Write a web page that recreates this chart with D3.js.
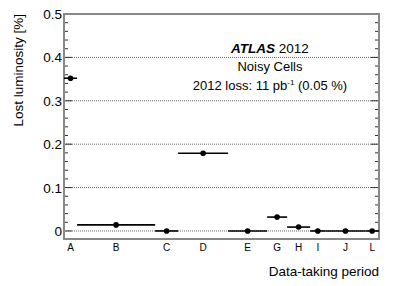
<!DOCTYPE html>
<html>
<head>
<meta charset="utf-8">
<script src="https://cdn.jsdelivr.net/npm/d3@7"></script>
<style>
  body { margin: 0; background: #fff; }
  svg { display: block; font-family: "Liberation Sans", Arial, Helvetica, sans-serif; }
</style>
</head>
<body>
<div id="chart"></div>
<script>
// data-taking periods, integrated luminosity per period (fb^-1, sets bin widths)
var periods  = ['A', 'B', 'C', 'D', 'E', 'G', 'H', 'I', 'J', 'L']
var lumi     = [0.87, 5.2, 1.53, 3.33, 2.6, 1.33, 1.53, 1.03, 2.65, 0.91]
var lostLumi = [0.352, 0.014, 0, 0.179, 0, 0.032, 0.009, 0, 0, 0]   // %
var yTicks   = [0, 0.1, 0.2, 0.3, 0.4, 0.5]
var yTickLabels = ['0', '0.1', '0.2', '0.3', '0.4', '0.5']

var W = 399, H = 286
var frame = { left: 64, right: 379, top: 14, bottom: 239 }

var svg = d3.select('#chart').append('svg')
  .attr('width', W).attr('height', H)

// cumulative edges of each period
var edges = [0]
lumi.forEach(function(l, i) { edges.push(edges[i] + l) })
var rows = periods.map(function(p, i) {
  return { name: p, lo: edges[i], hi: edges[i + 1], mid: (edges[i] + edges[i + 1]) / 2, val: lostLumi[i] }
})

var x = d3.scaleLinear().domain([0, edges[edges.length - 1]]).range([frame.left, frame.right])
var y = d3.scaleLinear().domain([-0.0185, 0.5]).range([frame.bottom, frame.top])

// grid
svg.append('g').selectAll('line')
  .data(yTicks.slice(0, -1))
  .enter().append('line')
  .attr('x1', frame.left).attr('x2', frame.right)
  .attr('y1', d => y(d)).attr('y2', d => y(d))
  .attr('stroke', '#666').attr('stroke-width', 1)
  .attr('stroke-dasharray', '1,1')

// minor + major ticks, both sides, pointing inward
var minor = d3.range(0, 0.5001, 0.02)
var tickG = svg.append('g').attr('stroke', '#333').attr('stroke-width', 1)
minor.forEach(function(v) {
  var major = Math.abs(v * 10 - Math.round(v * 10)) < 1e-6
  var len = major ? 8 : 4
  tickG.append('line')
    .attr('x1', frame.left).attr('x2', frame.left + len)
    .attr('y1', y(v)).attr('y2', y(v))
  tickG.append('line')
    .attr('x1', frame.right).attr('x2', frame.right - len)
    .attr('y1', y(v)).attr('y2', y(v))
})

// frame
svg.append('rect')
  .attr('x', frame.left).attr('y', frame.top)
  .attr('width', frame.right - frame.left).attr('height', frame.bottom - frame.top)
  .attr('fill', 'none').attr('stroke', '#888').attr('stroke-width', 2)

// y tick labels
svg.append('g').selectAll('text')
  .data(yTicks)
  .enter().append('text')
  .attr('x', frame.left - 2)
  .attr('y', d => y(d) + 5)
  .attr('text-anchor', 'end')
  .attr('font-size', 13.5)
  .text((d, i) => yTickLabels[i])

// period labels
svg.append('g').selectAll('text')
  .data(rows)
  .enter().append('text')
  .attr('x', d => x(d.mid))
  .attr('y', 251)
  .attr('text-anchor', 'middle')
  .attr('font-size', 10)
  .text(d => d.name)

// horizontal bars (period extent) and markers
var pts = svg.append('g')
pts.selectAll('line')
  .data(rows)
  .enter().append('line')
  .attr('x1', d => x(d.lo)).attr('x2', d => x(d.hi))
  .attr('y1', d => y(d.val)).attr('y2', d => y(d.val))
  .attr('stroke', '#000').attr('stroke-width', 1.6)
pts.selectAll('circle')
  .data(rows)
  .enter().append('circle')
  .attr('cx', d => x(d.mid)).attr('cy', d => y(d.val))
  .attr('r', 2.8).attr('fill', '#000')

// axis titles
svg.append('text')
  .attr('transform', 'translate(23,' + frame.top + ') rotate(-90)')
  .attr('text-anchor', 'end')
  .attr('font-size', 13.5)
  .text('Lost luminosity [%]')

svg.append('text')
  .attr('x', frame.right).attr('y', 276)
  .attr('text-anchor', 'end')
  .attr('font-size', 13.5)
  .text('Data-taking period')

// labels
var cx = 270
var t1 = svg.append('text').attr('x', cx).attr('y', 53).attr('text-anchor', 'middle').attr('font-size', 13.5)
t1.append('tspan').attr('font-weight', 'bold').attr('font-style', 'italic').text('ATLAS')
t1.append('tspan').text(' 2012')

svg.append('text').attr('x', cx).attr('y', 71).attr('text-anchor', 'middle').attr('font-size', 13)
  .text('Noisy Cells')

var t3 = svg.append('text').attr('x', cx).attr('y', 90).attr('text-anchor', 'middle').attr('font-size', 13)
t3.append('tspan').text('2012 loss: 11 pb')
t3.append('tspan').attr('font-size', 8).attr('dy', -5).text('-1')
t3.append('tspan').attr('dy', 5).text(' (0.05 %)')
</script>
</body>
</html>
